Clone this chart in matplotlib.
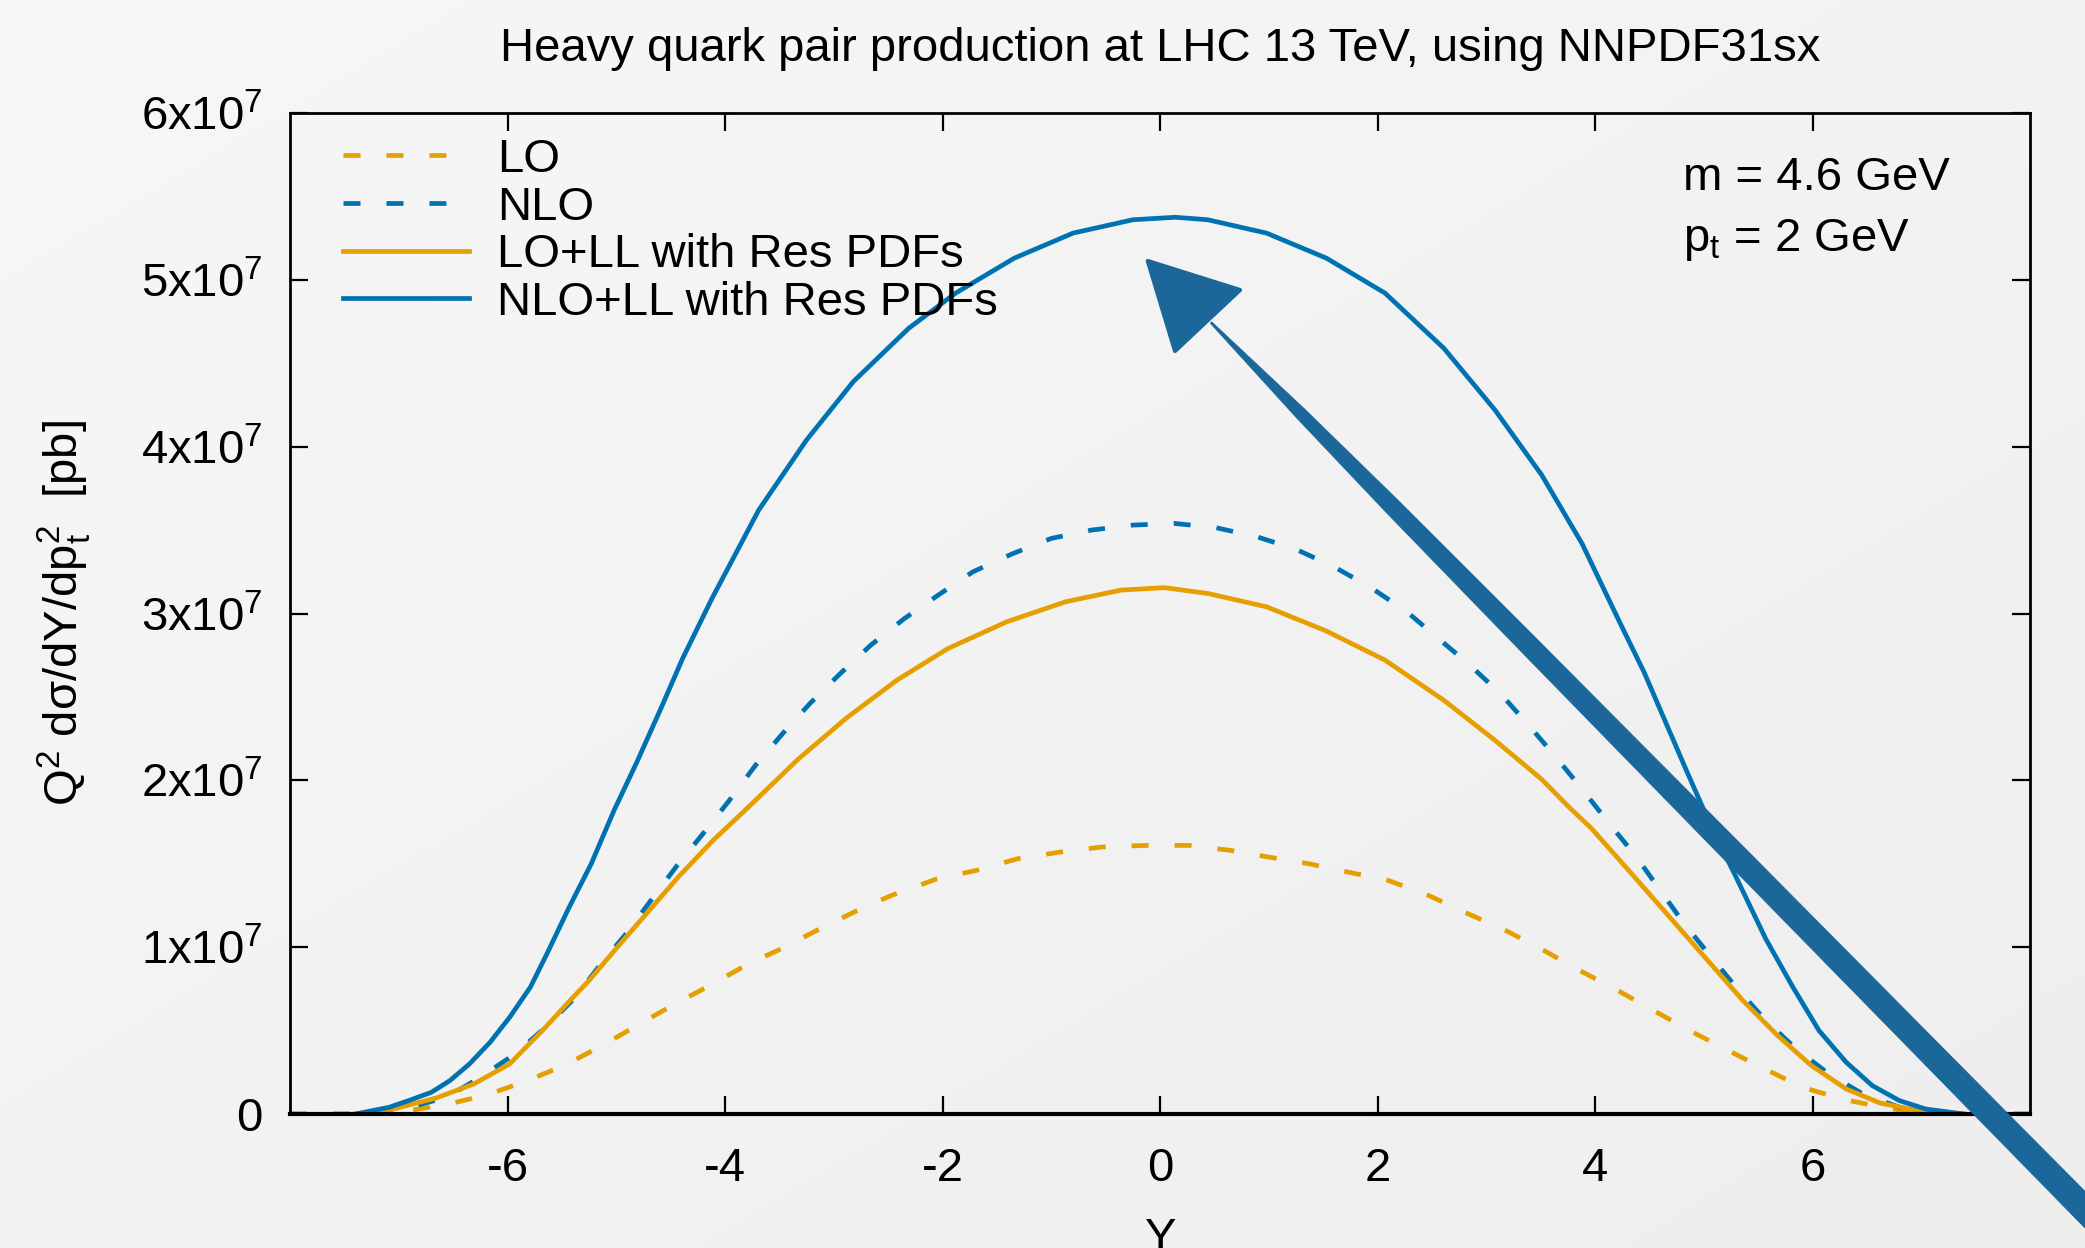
import numpy as np
import matplotlib
matplotlib.use('Agg')
import matplotlib.pyplot as plt
from matplotlib.patches import Polygon

plt.rcParams['font.family'] = ['Liberation Sans', 'DejaVu Sans']
plt.rcParams['mathtext.fontset'] = 'custom'
plt.rcParams['mathtext.rm'] = 'Liberation Sans'
plt.rcParams['mathtext.it'] = 'Liberation Sans:italic'
plt.rcParams['mathtext.default'] = 'regular'
plt.rcParams['axes.unicode_minus'] = False

# ---------------- data (values in units of 1e7 pb) ----------------
SCALE = 1e7

y_lo = [-7.26, -6.91, -6.58, -6.19, -5.83, -5.48, -5.13, -4.81, -4.46,
        -4.11, -3.80, -3.45, -3.10, -2.75, -2.47, -2.05, -1.69, -1.31, -0.92,
        -0.54, -0.12, 0.27, 0.65, 1.00, 1.37, 1.73, 2.10, 2.47, 2.80,
        3.18, 3.53, 3.86, 4.21, 4.54, 4.87, 5.21, 5.56, 5.91, 6.27,
        6.62, 6.97, 7.30]
v_lo = [0, 0.02, 0.054, 0.114, 0.197, 0.29, 0.41, 0.53, 0.66,
        0.78, 0.895, 1.00, 1.12, 1.23, 1.31, 1.41, 1.46, 1.53, 1.57,
        1.60, 1.61, 1.61, 1.58, 1.54, 1.50, 1.45, 1.40, 1.31, 1.21,
        1.10, 0.98, 0.86, 0.74, 0.62, 0.50, 0.386, 0.27, 0.16, 0.09,
        0.043, 0.007, 0]

y_nlo = [-8.0, -7.40, -6.90, -6.56, -6.25, -5.93, -5.65, -5.39, -5.14, -4.91,
         -4.67, -4.44, -4.19, -3.96, -3.72, -3.47, -3.22, -2.94, -2.66, -2.35,
         -2.04, -1.72, -1.35, -1.00, -0.63, -0.25, 0.13, 0.51, 0.89, 1.25,
         1.60, 1.94, 2.27, 2.56, 2.85, 3.13, 3.39, 3.64, 3.89, 4.12,
         4.37, 4.59, 4.82, 5.07, 5.31, 5.57, 5.85, 6.15, 6.45, 6.80,
         7.40, 8.0]
v_nlo = [0, 0, 0.04, 0.10, 0.22, 0.36, 0.52, 0.69, 0.90, 1.08,
         1.29, 1.49, 1.69, 1.88, 2.09, 2.28, 2.46, 2.64, 2.81, 2.97,
         3.11, 3.25, 3.36, 3.45, 3.50, 3.53, 3.54, 3.515, 3.46, 3.385,
         3.28, 3.155, 3.01, 2.85, 2.69, 2.52, 2.33, 2.14, 1.94, 1.75,
         1.55, 1.35, 1.14, 0.94, 0.75, 0.56, 0.39, 0.24, 0.125, 0.04,
         0, 0]

y_lo_ll = [-7.40, -7.26, -7.05, -6.66, -6.31, -5.98, -5.65, -5.44, -5.25, -4.99,
           -4.71, -4.43, -4.11, -3.80, -3.33, -2.89, -2.42, -1.95, -1.41, -0.87,
           -0.36, 0.04, 0.44, 0.98, 1.53, 2.07, 2.61, 3.08, 3.51, 3.76,
           3.97, 4.31, 4.66, 5.01, 5.36, 5.68, 5.99, 6.31, 6.62, 6.97, 7.39]
v_lo_ll = [0, 0.007, 0.03, 0.095, 0.18, 0.30, 0.52, 0.67, 0.80, 1.00,
           1.21, 1.42, 1.64, 1.83, 2.125, 2.37, 2.60, 2.79, 2.95, 3.07,
           3.14, 3.155, 3.12, 3.04, 2.895, 2.72, 2.48, 2.24, 2.006, 1.84,
           1.71, 1.46, 1.20, 0.94, 0.68, 0.47, 0.29, 0.15, 0.066, 0.02, 0]

y_nlo_ll = [-7.40, -7.09, -6.91, -6.70, -6.53, -6.35, -6.16, -5.98, -5.79, -5.63,
            -5.44, -5.23, -5.02, -4.81, -4.59, -4.39, -4.12, -3.69, -3.25, -2.82,
            -2.31, -1.88, -1.34, -0.80, -0.25, 0.14, 0.44, 0.98, 1.53, 2.07,
            2.61, 3.08, 3.51, 3.88, 4.24, 4.45, 4.84, 5.07, 5.29, 5.57,
            5.82, 6.06, 6.31, 6.55, 6.80, 7.04, 7.39]
v_nlo_ll = [0.0, 0.04, 0.08, 0.13, 0.20, 0.30, 0.43, 0.58, 0.76, 0.97,
            1.23, 1.50, 1.82, 2.11, 2.43, 2.73, 3.09, 3.62, 4.04, 4.39,
            4.71, 4.92, 5.13, 5.28, 5.36, 5.375, 5.36, 5.28, 5.13, 4.92,
            4.59, 4.22, 3.83, 3.42, 2.93, 2.65, 2.06, 1.72, 1.43, 1.05,
            0.76, 0.50, 0.31, 0.17, 0.08, 0.03, 0.0]

labels = ["LO", "NLO", "LO+LL with Res PDFs", "NLO+LL with Res PDFs"]
x_ticks = [-6, -4, -2, 0, 2, 4, 6]
y_tick_vals = [0, 1, 2, 3, 4, 5, 6]
y_tick_labels = ["0"] + ["%dx10$^{7}$" % k for k in y_tick_vals[1:]]

ORANGE = "#E69F00"
BLUE = "#0072B2"
ARROW = "#1B6799"

# ---------------- figure ----------------
W, H = 2085, 1248
fig = plt.figure(figsize=(W / 100, H / 100), dpi=100)

bg = fig.add_axes([0, 0, 1, 1], zorder=-10)
gx, gy = np.meshgrid(np.linspace(0, 1, 256), np.linspace(0, 1, 256))
g = 0.5 * (gx + gy)
c = (247 - 9 * g) / 255.0
bg.imshow(np.dstack([c, c, c]), aspect='auto', extent=[0, 1, 0, 1], origin='upper')
bg.axis('off')

ax = fig.add_axes([290 / W, 1 - 1114 / H, (2030 - 290) / W, (1114 - 113) / H])
ax.patch.set_alpha(0)

LW = 3.4
dash = (3.6, 5.5)
s = lambda v: np.array(v) * SCALE
l1, = ax.plot(y_lo, s(v_lo), color=ORANGE, lw=LW, dashes=dash, label=labels[0])
l2, = ax.plot(y_nlo, s(v_nlo), color=BLUE, lw=LW, dashes=dash, label=labels[1])
l3, = ax.plot(y_lo_ll, s(v_lo_ll), color=ORANGE, lw=LW, label=labels[2])
l4, = ax.plot(y_nlo_ll, s(v_nlo_ll), color=BLUE, lw=LW, label=labels[3])
for ln in (l1, l2, l3, l4):
    ln.set_solid_joinstyle('round')

ax.set_xlim(-8, 8)
ax.set_ylim(0, 6e7)
ax.set_xticks(x_ticks)
ax.set_xticklabels([str(t) for t in x_ticks])
ax.set_yticks(s(y_tick_vals))
ax.set_yticklabels(y_tick_labels)
ax.tick_params(direction='in', length=13, width=1.6, top=True, right=True,
               labelsize=34, colors='black')
ax.tick_params(axis='x', pad=24)
ax.tick_params(axis='y', pad=20)
for sp in ax.spines.values():
    sp.set_linewidth(2.0)
ax.spines['bottom'].set_linewidth(3.0)

leg = ax.legend(handles=[l1, l2, l3, l4], loc='upper left',
                bbox_to_anchor=((343 - 290) / 1740, (1114 - 138) / 1001),
                frameon=False, fontsize=34, handlelength=2.66, handletextpad=0.6,
                labelspacing=0.075, borderpad=0, borderaxespad=0)

fs = 34
fig.text(1160 / W, 1 - 61 / H, "Heavy quark pair production at LHC 13 TeV, using NNPDF31sx",
         ha='center', va='baseline', fontsize=fs)
fig.text(64 / W, 1 - 613 / H, "Q$^2$ dσ/dY/dp$_t^2$  [pb]", rotation=90,
         ha='center', va='center', fontsize=fs)
fig.text(1161 / W, 1 - 1217 / H, "Y", ha='center', va='top', fontsize=fs)
fig.text(1683 / W, 1 - 190 / H, "m = 4.6 GeV", ha='left', va='baseline', fontsize=fs)
fig.text(1683 / W, 1 - 251 / H, "p$_t$ = 2 GeV", ha='left', va='baseline', fontsize=fs)

# ---------------- hand-drawn style arrow annotation ----------------
P0 = np.array([1211.0, 322.5])
P1 = np.array([2110.0, 1235.0])
d = (P1 - P0) / np.linalg.norm(P1 - P0)
nrm = np.array([-d[1], d[0]])
ts = np.array([0, 0.04, 0.10, 0.20, 0.35, 0.6, 1.0])
ws = np.array([2, 6, 12, 17, 20, 23, 26])
centre = P0 + ts[:, None] * (P1 - P0)
left = centre + nrm * ws[:, None] / 2
right = centre - nrm * ws[:, None] / 2
shaft = np.vstack([left, right[::-1]])
head = np.array([[1147.8, 261.0], [1240.0, 290.0], [1175.0, 351.0]])

def to_fig(p):
    p = np.asarray(p, float)
    return np.column_stack([p[:, 0] / W, 1 - p[:, 1] / H])

fig.add_artist(Polygon(to_fig(shaft), closed=True, facecolor=ARROW, edgecolor=ARROW,
                       lw=0.5, transform=fig.transFigure, zorder=5))
fig.add_artist(Polygon(to_fig(head), closed=True, facecolor=ARROW, edgecolor=ARROW,
                       lw=3, joinstyle='round', transform=fig.transFigure, zorder=5))

fig.savefig("out.png", dpi=100)
